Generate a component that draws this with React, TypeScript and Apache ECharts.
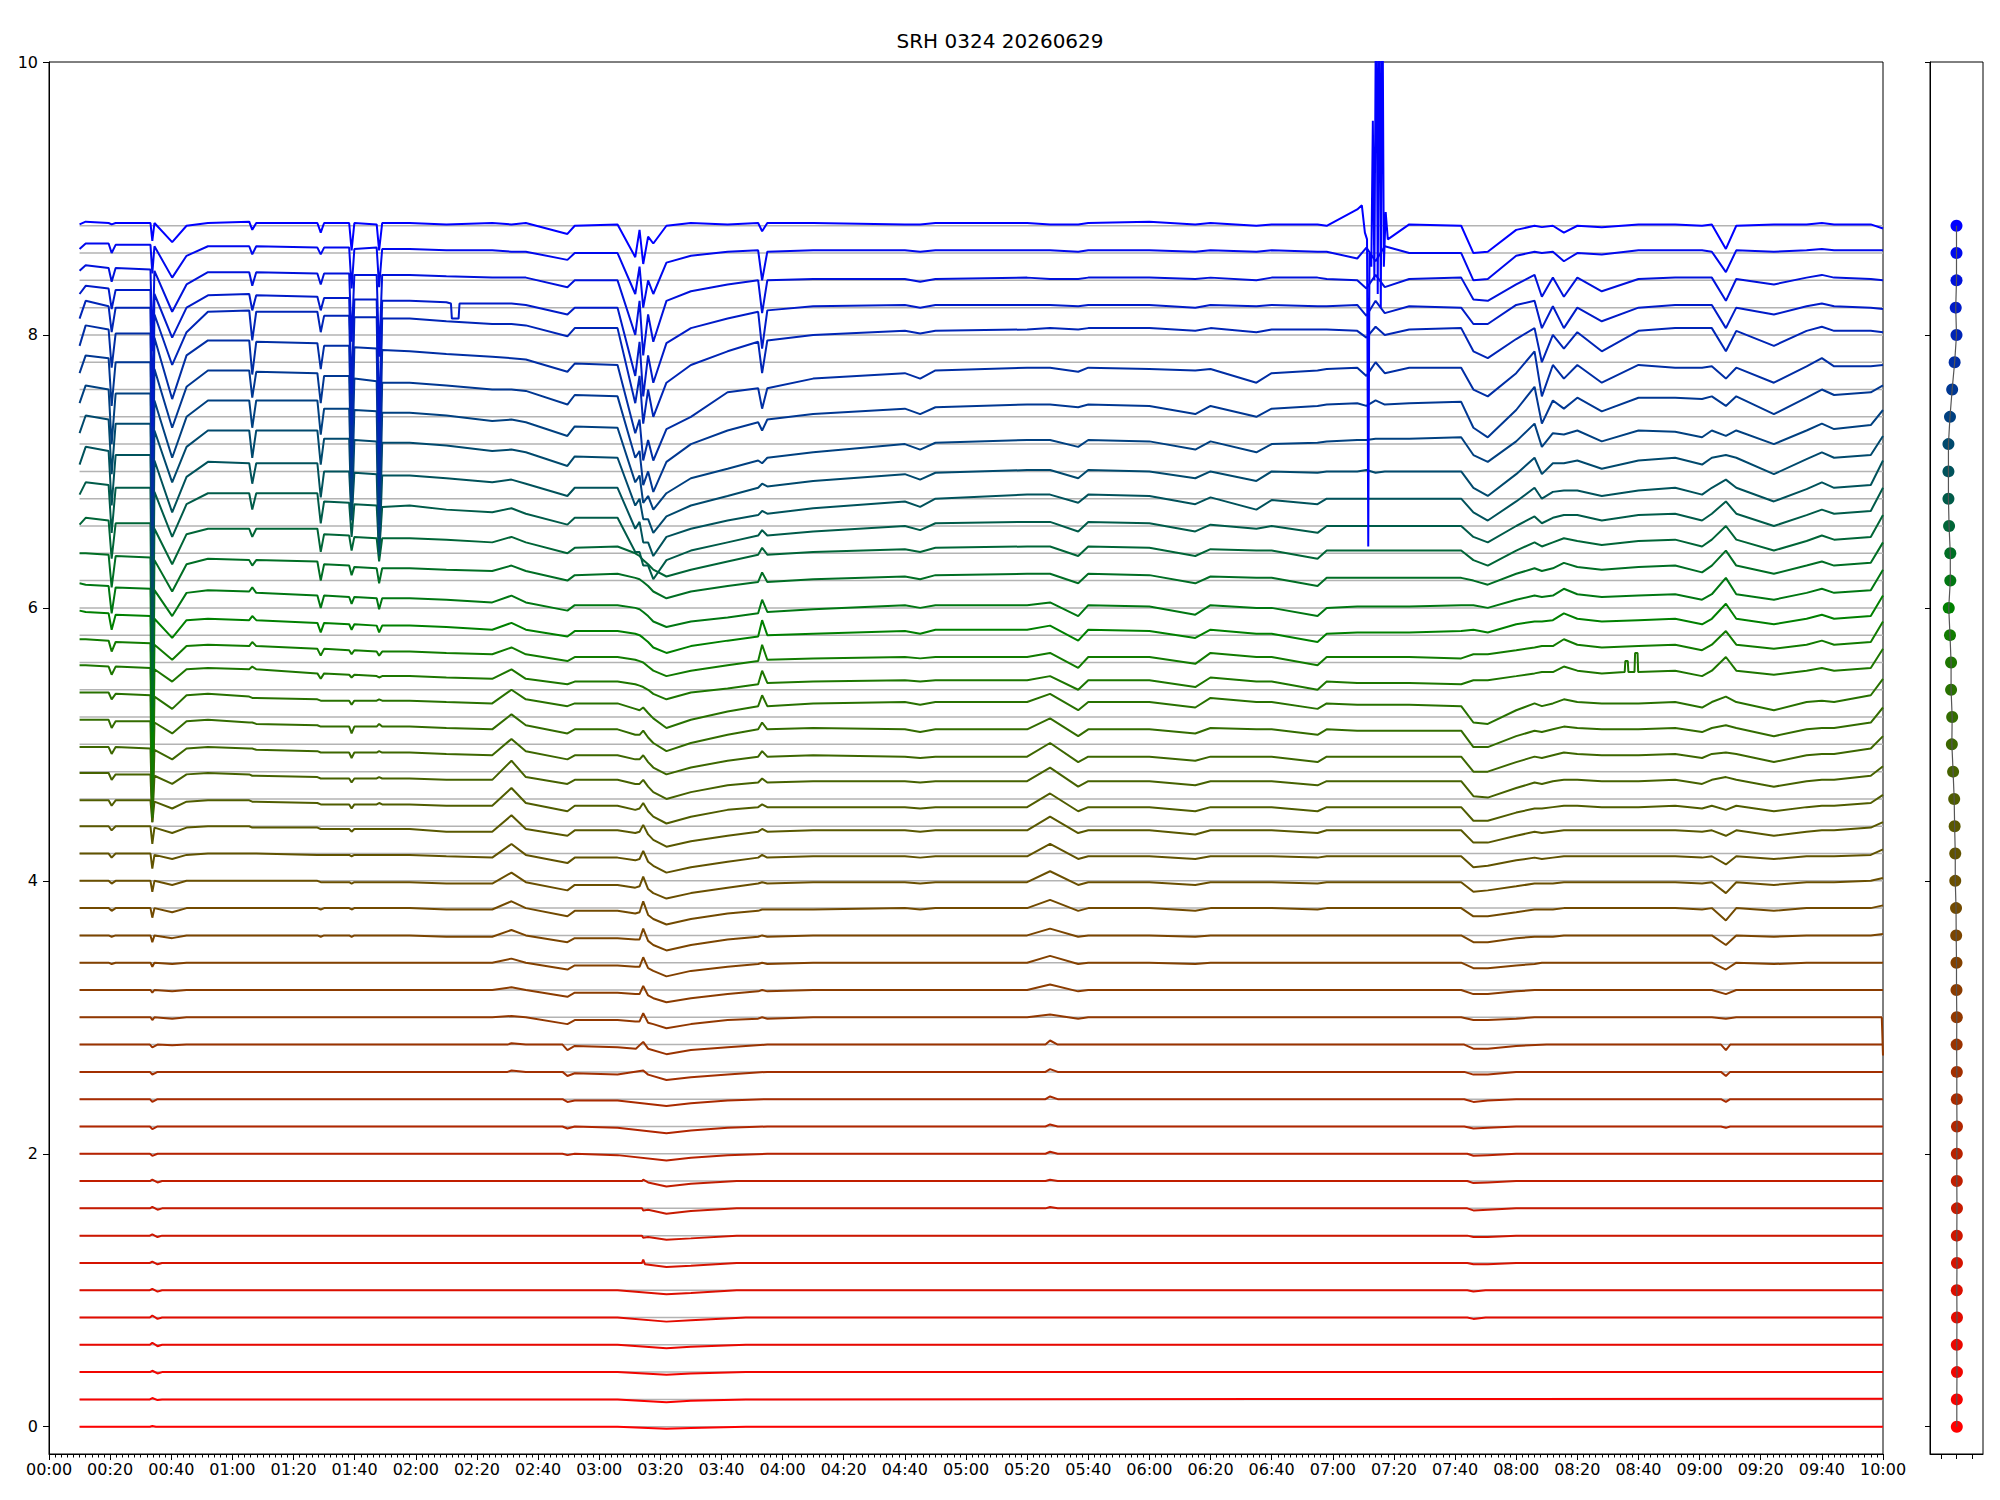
import React, { useEffect, useRef } from "react";
import * as echarts from "echarts";

const TITLE = "SRH 0324 20260629";
const X_MIN = 0;
const X_MAX = 600; // minutes from 00:00
const Y_MIN = -0.2;
const Y_MAX = 10;
const Y_TICKS = [0, 2, 4, 6, 8, 10];
const TRACE_STEP = 0.2;
const TRACE_COUNT = 45;
const BASELINE_START = 10;
const BASELINE_END = 600;

// shared time grid (minutes) for traces k = 15..44
const TIME_GRID = [10, 12, 19.5, 20.5, 21.8, 33.2, 33.8, 34.5, 40.3, 45, 52, 65.5, 66.5, 67.8, 87.8, 88.9, 90, 98.2, 99, 99.9, 107.2, 108, 109, 118, 130, 145, 151.3, 156, 169.6, 172, 186, 191.8, 193.2, 194.4, 196, 197.7, 202, 210, 222, 232, 233.3, 235, 250, 280, 285, 290, 320, 327.5, 336.7, 340, 360, 375, 380, 395, 400, 415, 418, 428, 431, 434, 437, 445, 462, 466, 470.7, 480, 486, 488.4, 492, 495.6, 500, 508, 520, 532, 540.8, 544, 548.6, 552, 564.3, 575, 580, 584, 596, 600];

// deviations from each trace's nominal level (hundredths), traces k = 15..44
const UPPER_TRACES: string[] = [
  /*15*/ "0 0 0 0 0 0 -2 0 -1 0 0 0 0 0 0 0 0 0 0 0 0 0 0 0 0 0 1 0 -5 -2 -2 -3 -3 3 -4 -5 -8 -5 -2 -1 0 -1 0 0 0 0 0 2 -1 0 0 0 0 0 0 0 0 0 0 0 0 0 0 -2 -2 -1 0 0 0 0 0 0 0 0 0 0 -1 0 0 0 0 0 0 -28",
  /*16*/ "0 0 0 0 0 0 -2 0 -1 0 0 0 0 0 0 0 0 0 0 0 0 0 0 0 0 0 2 0 -5 -2 -2 -3 -3 3 -4 -6 -9 -6 -3 -1 0 -1 0 0 0 0 0 4 -1 0 0 0 0 0 0 0 0 0 0 0 0 0 0 -3 -3 -1 0 0 0 0 0 0 0 0 0 0 -3 0 0 0 0 0 0 0",
  /*17*/ "0 0 0 -1 0 0 -3 0 -1 0 0 0 0 0 0 0 0 0 0 0 0 0 0 0 0 0 3 0 -5 -2 -2 -3 -3 4 -4 -6 -10 -6 -3 -1 0 -1 0 0 0 0 0 5 -1 0 0 -1 0 0 0 0 0 0 0 0 0 0 0 -4 -4 -2 -1 0 0 0 0 0 0 0 0 0 -5 0 -1 0 0 0 0 0",
  /*18*/ "0 0 0 -1 0 0 -5 0 -2 0 0 0 0 0 0 -1 0 0 -1 0 0 0 0 0 -1 -1 4 0 -5 -2 -2 -3 -3 5 -4 -7 -11 -7 -3 -1 0 -1 0 0 0 0 0 5 -1 0 0 -1 0 0 0 0 0 0 0 0 0 0 0 -5 -5 -2 -1 -1 -1 0 0 0 0 0 0 0 -7 0 -1 0 0 0 0 1",
  /*19*/ "0 0 0 -2 0 0 -7 0 -3 0 0 0 0 0 0 -1 0 0 -1 0 0 0 0 0 -1 -1 5 0 -6 -2 -2 -4 -3 5 -5 -8 -12 -8 -4 -2 -1 -1 -1 0 -1 0 0 6 -2 0 0 -2 0 0 0 -1 0 0 0 0 0 0 0 -6 -6 -3 -1 -1 -1 0 0 0 0 0 -1 0 -9 0 -2 0 0 0 0 2",
  /*20*/ "0 0 0 -2 0 0 -8 0 -3 0 0 0 0 0 0 -1 -1 -1 -2 -1 -1 -1 -1 -1 -2 -2 6 -1 -7 -3 -3 -5 -4 3 -6 -9 -13 -9 -5 -2 -1 -2 -1 -1 -2 -1 -1 7 -3 -1 -1 -3 -1 -1 -1 -2 -1 -1 -1 -1 -1 -1 -1 -8 -7 -4 -2 -2 -2 -1 -1 -1 -1 -1 -2 -1 -9 -1 -3 -1 -1 -1 0 2",
  /*21*/ "0 0 0 -3 0 0 -11 -1 -4 -1 0 0 0 0 -1 -1 -1 -1 -2 -1 -1 -1 -1 -1 -2 -3 7 -1 -7 -3 -3 -5 -4 2 -6 -9 -14 -10 -6 -3 -1 -3 -2 -2 -3 -2 -2 7 -4 -2 -2 -4 -2 -2 -2 -3 -2 -2 -2 -2 -2 -2 -2 -10 -9 -5 -3 -4 -3 -2 -2 -2 -2 -2 -3 -2 -8 -2 -4 -2 -2 -2 -1 3",
  /*22*/ "0 0 0 -3 0 0 -13 -1 -5 -1 0 0 -1 -1 -1 -2 -2 -2 -4 -2 -2 -2 -2 -2 -4 -4 8 -2 -7 -3 -3 -5 -4 1 -6 -10 -15 -11 -7 -4 -2 -4 -3 -3 -4 -3 -3 7 -5 -3 -3 -6 -3 -3 -3 -5 -3 -3 -3 -3 -3 -3 -3 -12 -12 -7 -4 -5 -4 -3 -3 -3 -3 -3 -4 -3 -7 -3 -7 -4 -3 -3 -1 3",
  /*23*/ "-1 -1 -1 -5 -1 -1 -17 -2 -7 -2 -1 -1 -2 -2 -3 -4 -4 -4 -7 -4 -4 -3 -4 -4 -5 -5 8 -3 -9 -5 -5 -8 -7 -3 -9 -13 -18 -13 -8 -6 -4 -6 -6 -6 -7 -6 -6 4 -9 -6 -6 -9 -6 -6 -6 -9 -6 -6 -6 -6 -6 -6 -6 -16 -16 -10 -7 -7 -6 -5 -5 -6 -6 -5 -7 -5 -8 -5 -9 -6 -5 -5 -3 3",
  /*24*/ "-1 -1 -1 -6 -2 -2 -37 -3 -9 -2 -1 -2 -3 -3 -4 -5 -5 -5 -8 -5 -5 -4 -5 -5 -6 -6 8 -4 -9 -6 -6 -9 -9 -6 -11 -15 -20 -15 -10 -8 -5 -8 -7 -7 -8 -7 -7 3 -11 -7 -7 -10 -7 -7 -7 -10 -7 -7 -7 -7 -7 -7 -7 -18 -19 -12 -8 -9 -7 -6 -6 -7 -7 -6 -9 -6 -4 -6 -11 -7 -6 -6 -3 4",
  /*25*/ "-2 -2 -2 -7 -2 -3 -53 -4 -11 -3 -2 -3 -3 -4 -5 -6 -6 -6 -10 -6 -6 -5 -6 -6 -7 -8 4 -5 -11 -8 -8 -11 -11 -8 -13 -17 -22 -17 -12 -9 -5 -9 -8 -9 -10 -9 -9 1 -13 -9 -9 -12 -9 -9 -9 -13 -9 -9 -9 -9 -9 -9 -9 -20 -20 -13 -9 -10 -8 -6 -7 -8 -8 -7 -10 -7 -6 -7 -13 -8 -7 -7 -3 6",
  /*26*/ "-2 -2 -2 -8 -3 -3 -73 -4 -12 -3 -2 -4 -4 -5 -6 -7 -7 -7 -12 -7 -7 -5 -7 -7 -8 -9 2 -6 -12 -9 -9 -13 -13 -10 -15 -19 -25 -19 -13 -9 -4 -9 -8 -9 -11 -9 -9 -1 -14 -9 -9 -12 -8 -9 -9 -13 -9 -10 -10 -10 -10 -10 -10 -22 -22 -14 -10 -11 -9 -7 -8 -9 -9 -8 -11 -8 -6 -8 -14 -9 -8 -8 -4 7",
  /*27*/ "-2 -2 -2 -7 -3 -4 -94 -5 -14 -4 -3 -5 -6 -6 -7 -8 -8 -8 -11 -8 -8 -7 -8 -8 -9 -10 0 -7 -12 -10 -10 -14 -15 -13 -17 -21 -28 -22 -16 -12 -4 -12 -10 -9 -11 -9 -9 -3 -15 -9 -9 -13 -6 -9 -9 -14 -10 -11 -11 -11 -11 -11 -12 -24 -25 -15 -10 -12 -10 -7 -9 -10 -10 -9 -13 -9 -5 -9 -15 -9 -8 -9 -4 8",
  /*28*/ "-2 -2 -3 -9 -3 -4 -99 -5 -14 -5 -4 -5 -3 -5 -8 -12 -8 -9 -11 -9 -10 -11 -10 -10 -11 -12 -5 -12 -16 -14 -14 -16 -17 -18 -20 -23 -27 -22 -19 -16 -6 -15 -14 -13 -14 -13 -13 -10 -20 -13 -13 -18 -11 -14 -14 -20 -14 -15 -15 -15 -15 -15 -16 -13 -13 -10 -8 -7 -7 -3 -6 -8 -7 -6 -10 -6 4 -6 -9 -6 -4 -6 -4 10",
  /*29*/ "-3 -3 -4 -12 -5 -6 -106 -7 -18 -8 -7 -8 -5 -8 -10 -15 -10 -11 -14 -11 -12 -15 -12 -12 -13 -14 -9 -14 -19 -16 -16 -18 -19 -20 -23 -26 -30 -26 -22 -19 -7 -18 -17 -16 -17 -16 -16 -13 -24 -16 -16 -21 -13 -16 -16 -22 -16 -16 -16 -16 -16 -16 -17 -14 -14 -11 -9 -8 -8 -3 -7 -9 -8 -7 -11 -7 3 -7 -10 -7 -4 -7 -5 10",
  /*30*/ "-2 -3 -4 -16 -5 -6 -106 -8 -22 -9 -8 -9 -6 -9 -11 -18 -11 -12 -16 -12 -13 -18 -13 -13 -14 -16 -11 -16 -21 -17 -17 -19 -20 -22 -25 -29 -33 -28 -24 -21 -9 -20 -19 -17 -19 -16 -16 -13 -24 -16 -17 -22 -16 -19 -19 -25 -19 -18 -18 -18 -18 -18 -17 -16 -18 -12 -10 -10 -9 -4 -8 -10 -9 -8 -12 -8 3 -8 -12 -8 -5 -8 -6 9",
  /*31*/ "-2 -3 -4 -24 -5 -6 -111 -7 -26 -9 -7 -8 -5 -9 -11 -20 -11 -12 -17 -12 -13 -21 -13 -13 -14 -16 -11 -16 -22 -18 -18 -20 -21 -23 -26 -30 -34 -30 -27 -24 -14 -23 -21 -18 -20 -18 -18 -16 -26 -18 -19 -25 -18 -20 -20 -26 -20 -19 -19 -19 -19 -19 -18 -18 -20 -14 -11 -12 -11 -6 -10 -12 -11 -10 -14 -10 2 -10 -14 -9 -6 -9 -7 8",
  /*32*/ "0 0 -1 -25 -2 -3 -113 -5 -28 -8 -4 -5 -9 -5 -6 -20 -8 -9 -16 -10 -11 -22 -11 -11 -12 -13 -9 -13 -20 -16 -15 -18 -19 -21 -24 -28 -33 -28 -24 -21 -14 -21 -19 -17 -19 -16 -15 -15 -22 -15 -16 -22 -17 -18 -18 -24 -18 -18 -18 -18 -18 -18 -18 -20 -23 -15 -11 -13 -11 -7 -10 -12 -10 -9 -14 -9 2 -9 -15 -9 -6 -9 -7 8",
  /*33*/ "1 6 4 -24 2 2 -113 -2 -28 -6 -2 -2 -8 -2 -2 -19 -6 -7 -18 -8 -9 -26 -9 -9 -10 -12 -8 -12 -20 -16 -15 -20 -22 -25 -28 -32 -37 -32 -26 -21 -16 -21 -19 -17 -19 -16 -15 -15 -22 -15 -16 -22 -17 -18 -18 -24 -18 -18 -18 -18 -18 -18 -18 -25 -29 -18 -12 -15 -12 -9 -11 -14 -11 -10 -15 -10 0 -10 -18 -11 -7 -10 -8 8",
  /*34*/ "3 12 10 -25 8 8 -112 5 -28 -4 4 4 -8 4 4 -18 -2 -3 -28 -4 -5 -40 -6 -5 -8 -10 -7 -11 -19 -14 -14 -39 -39 -49 -49 -59 -45 -38 -32 -27 -23 -27 -24 -20 -23 -18 -17 -17 -24 -17 -18 -24 -19 -22 -20 -25 -20 -20 -20 -20 -20 -20 -20 -28 -32 -20 -13 -18 -14 -12 -12 -16 -12 -11 -16 -11 -2 -11 -20 -12 -8 -11 -9 8",
  /*35*/ "5 18 15 -25 12 12 -108 8 -30 -4 7 6 -9 6 6 -19 0 0 -35 -1 -2 -62 -3 -3 -5 -8 -6 -9 -18 -12 -12 -42 -37 -52 -52 -62 -48 -42 -36 -32 -29 -31 -27 -22 -26 -20 -17 -17 -23 -17 -18 -24 -19 -28 -21 -24 -20 -20 -20 -20 -20 -20 -20 -30 -36 -22 -12 -20 -15 -14 -14 -18 -14 -12 -17 -12 -6 -12 -22 -13 -8 -12 -10 8",
  /*36*/ "8 21 18 -22 15 15 -105 10 -28 -2 10 10 -10 10 10 -15 4 4 -56 3 2 -78 1 1 -1 -5 -4 -6 -16 -9 -10 -45 -40 -55 -55 -65 -53 -45 -38 -32 -29 -31 -27 -22 -26 -21 -19 -19 -25 -19 -20 -25 -20 -27 -20 -21 -20 -20 -19 -21 -20 -20 -20 -32 -38 -22 -10 -22 -14 -14 -12 -18 -12 -10 -15 -10 -8 -10 -22 -11 -6 -10 -8 6",
  /*37*/ "10 23 20 -20 17 17 -102 12 -30 0 12 12 -8 12 12 -13 6 6 -62 5 4 -85 3 3 1 -3 -2 -4 -14 -7 -8 -48 -43 -63 -58 -68 -56 -45 -38 -32 -34 -30 -26 -20 -24 -19 -17 -17 -22 -17 -18 -24 -18 -26 -20 -19 -18 -17 -17 -16 -16 -16 -15 -28 -33 -18 -5 -22 -12 -13 -10 -18 -10 -11 -15 -10 -14 -10 -20 -10 -5 -9 -6 5",
  /*38*/ "12 25 23 -12 20 20 -100 15 -28 2 14 14 -6 13 12 -10 10 10 -65 8 6 -88 5 5 3 0 0 -1 -11 -4 -5 -50 -45 -70 -60 -75 -53 -40 -30 -24 -30 -22 -18 -14 -18 -13 -11 -11 -13 -11 -12 -18 -12 -20 -14 -12 -11 -10 -12 -8 -11 -10 -9 -28 -35 -15 2 -25 -8 -14 -6 -16 -6 -6 -7 -5 -12 -5 -18 -6 0 -4 -2 3",
  /*39*/ "12 27 24 -4 21 21 -98 18 -27 5 16 16 -9 15 14 -5 12 12 -70 11 10 -91 9 8 6 4 3 2 -7 -1 -2 -52 -42 -72 -57 -72 -49 -40 -22 -19 -34 -19 -12 -8 -12 -6 -4 -4 -7 -4 -5 -6 -5 -15 -8 -6 -5 -4 -10 0 -8 -4 -4 -20 -25 -8 8 -25 -2 -12 -2 -15 -2 -4 -4 -3 -12 -4 -15 -3 3 -3 -3 -2",
  /*40*/ "12 25 21 2 20 20 -90 15 -22 2 17 18 -4 17 17 2 14 14 -66 13 13 -87 12 12 10 8 8 7 -1 5 5 -50 -30 -65 -40 -60 -35 -22 -12 -5 -28 -4 0 3 1 3 4 5 4 5 5 3 5 2 4 4 4 3 -2 6 0 4 5 -12 -17 -3 5 -20 0 -10 2 -12 3 5 5 5 -12 3 -8 3 6 3 3 2",
  /*41*/ "10 16 14 -1 13 13 -87 10 -22 0 9 10 -2 9 8 -2 7 7 -63 6 6 -84 5 5 4 3 3 2 -5 0 0 -50 -25 -65 -35 -55 -26 -15 -8 -3 -30 -2 1 2 0 2 2 2 1 2 2 0 2 1 2 1 1 2 -6 5 -4 1 0 -12 -12 2 5 -15 1 -15 0 -10 0 2 2 2 -15 0 -5 1 3 1 0 -1",
  /*42*/ "7 11 9 -1 9 8 -52 7 -23 -3 6 6 -4 6 5 -3 5 5 -45 4 4 -56 4 4 3 2 2 2 -5 0 0 -40 -15 -55 -25 -45 -15 -8 -3 0 -24 0 1 1 -1 1 2 1 1 2 2 1 2 0 2 2 1 0 -6 4 -5 1 2 -14 -15 -3 4 -12 2 -12 2 -8 1 2 2 2 -15 1 -3 2 4 2 1 0",
  /*43*/ "3 7 7 0 6 6 -15 5 -18 -2 5 5 -1 5 4 -1 4 4 -26 3 4 -25 3 3 2 2 1 1 -5 0 0 -30 -10 -40 -20 -30 -7 -2 1 2 -20 1 2 2 1 2 2 2 1 2 2 1 2 1 2 1 1 -4 4 -6 5 0 0 -20 -19 -2 1 0 1 -6 0 -1 2 2 2 1 -14 2 1 2 3 2 2 2",
  /*44*/ "1 3 2 1 2 2 -11 2 -12 0 2 3 -3 2 2 -5 2 2 -18 2 1 -18 2 2 1 2 1 2 -6 0 1 -23 -3 -28 -8 -13 0 2 1 2 -4 2 2 1 1 2 2 1 1 2 3 1 2 0 1 1 0 12 2 2 3 1 0 -20 -19 -3 0 -1 0 -5 0 -1 1 1 0 1 -17 0 1 1 2 1 1 -2",
];

// sparse "minute:deviation(hundredths)" lists for traces k = 0..14
const LOWER_TRACES: string[] = [
  /*0*/ "10:0 33:0 33.8:0.5 35:0 186:0 202:-1.5 210:-1 228:0 600:0",
  /*1*/ "10:0 33:0 33.8:1 35.5:-0.5 37:0 186:0 202:-2 210:-1 228:0 600:0.5",
  /*2*/ "10:0 33:0 33.8:1 35.5:-1 37:0 186:0 202:-2 210:-1 228:0 600:0",
  /*3*/ "10:0 33:0 33.8:1.5 35.5:-1 37:0 186:0 202:-2.5 210:-1.5 228:0 600:0",
  /*4*/ "10:0 33:0 33.8:1.5 35.5:-1 37:0 186:0 202:-3 210:-2 228:0 464:0 466:-1 470:0 600:0",
  /*5*/ "10:0 33:0 33.8:1 35.5:-1 37:0 186:0 202:-3 210:-2 225:0 464:0 466:-1 470:0 600:0",
  /*6*/ "10:0 33:0 33.8:1 35.5:-1 37:0 186:0 194:0 194.4:2.5 195:-1 202:-3 210:-2 225:0 464:0 466:-1 470.7:-1 480:0 600:0",
  /*7*/ "10:0 33:0 33.8:1 35.5:-1 37:0 186:0 194:0 194.4:-1.5 196:-1 202:-3 210:-2 225:0 464:0 466:-1 470.7:-1 480:0 600:0",
  /*8*/ "10:0 33:0 33.8:1 35.5:-1 37:0 186:0 194:0 194.4:-1.5 196:-1 202:-4 210:-2 225:0 326:0 327.5:1 330:0 464:0 466:-1.5 470.7:-1 480:0 600:0",
  /*9*/ "10:0 33:0 33.8:1 35.5:-1 37:0 186:0 194:0 194.4:1 196:-1 202:-4 210:-2 225:0 326:0 327.5:1 330:0 464:0 466:-1.5 470.7:-1 480:0 600:0",
  /*10*/ "10:0 33:0 33.8:-1.5 35.5:0 168:0 169.6:-1 172:0 186:-1 202:-5 210:-3 222:-1 235:0 326:0 327.5:1.5 330:0 464:0 466:-1.5 470.7:-1 480:0 600:0",
  /*11*/ "10:0 33:0 33.8:-2 35.5:0 168:0 169.6:-1.5 172:0 186:-1 202:-5 210:-3 222:-1 235:0 326:0 327.5:1.5 330:0 463:0 466:-1.5 470.7:-1 480:0 547:0 548.6:-1 550:0 600:0",
  /*12*/ "10:0 33:0 33.8:-2 35.5:0 168:0 169.6:-2 172:-1 186:-1 202:-5 210:-3 222:-1 235:0 326:0 327.5:2 330:0 463:0 466:-2 470.7:-1 480:0 547:0 548.6:-2 550:0 600:0",
  /*13*/ "10:0 33:0 33.8:-2 35.5:0 150:0 151.3:1 156:0 168:0 169.6:-3 172:-1 186:-2 194.4:1 196:-2 202:-6 210:-4 222:-2 235:0 326:0 327.5:2 330:0 463:0 466:-2 470.7:-2 480:0 547:0 548.6:-3 550:0 600:0",
  /*14*/ "10:0 33:0 33.8:-2 35.5:0 40.3:-0.5 45:0 150:0 151.3:1 156:0 168:0 169.6:-4 172:-1 186:-2 192:-3 194.4:2 196:-3 202:-7 210:-4 222:-2 235:0 326:0 327.5:3 330:0 463:0 466:-3 470.7:-3 480:-1 490:0 547:0 548.6:-4 550:0 600:0",
];

// extra read points (minute, hundredths) for individual traces
const EXTRA_POINTS: Record<number, [number, number][]> = {
  15: [[599.6, 0]],
  28: [[515.5, -7], [515.7, 1], [516.5, 1], [516.7, -7], [518.7, -7], [518.9, 7], [519.7, 7], [519.9, -7]],
  41: [[131.5, 3], [131.8, -8], [134, -8], [134.3, 3]],
};

// burst on the top trace (absolute values)
const SPIKE_T = [429.5, 430.5, 431.2, 431.6, 432.0, 432.6, 433.1, 433.6, 434.2, 434.7, 435.2, 435.7, 436.2, 436.7, 437.3, 438];
const SPIKE_Y = [8.95, 8.75, 8.7, 6.45, 8.6, 8.5, 9.57, 8.4, 10.8, 8.3, 10.8, 8.2, 10.8, 8.5, 8.9, 8.7];

// side panel dot x positions (k = 0..44)
const DOT_X = [0.02, 0.02, 0.03, 0.02, 0.03, 0.02, 0.03, 0.02, 0.03, 0.02, 0.02, 0.03, 0.02, 0.02, 0.01, 0.02, 0.0, 0.0, -0.02, -0.03, -0.08, -0.08, -0.12, -0.15, -0.22, -0.3, -0.28, -0.35, -0.35, -0.42, -0.5, -0.4, -0.4, -0.48, -0.52, -0.52, -0.52, -0.42, -0.28, -0.12, 0, -0.05, 0, 0, 0];
const DOT_X_TICKS = [-1, 0, 1];

const FONT = "DejaVu Sans";

function traceColor(k: number): string {
  const pivot = 30;
  let r = 0, g = 0, b = 0;
  if (k <= pivot) {
    const t = k / pivot;
    r = 255 * Math.pow(1 - t, 0.8);
    g = 128 * Math.pow(t, 1.2);
  } else {
    const t = (k - pivot) / (TRACE_COUNT - 1 - pivot);
    g = 128 * (1 - t);
    b = 255 * t;
  }
  return `rgb(${Math.round(r)},${Math.round(g)},${Math.round(b)})`;
}

function traceData(k: number): [number, number][] {
  const base = k * TRACE_STEP;
  let pts: [number, number][];
  if (k >= 15) {
    const vals = UPPER_TRACES[k - 15].trim().split(/\s+/).map(Number);
    pts = TIME_GRID.map((t, i) => [t, vals[i] ?? 0] as [number, number]);
  } else {
    pts = LOWER_TRACES[k].trim().split(/\s+/).map((s) => {
      const [t, v] = s.split(":").map(Number);
      return [t, v] as [number, number];
    });
  }
  if (EXTRA_POINTS[k]) pts = pts.concat(EXTRA_POINTS[k]);
  let out: [number, number][] = pts.map(([t, v]) => [t, +(base + v / 100).toFixed(4)]);
  if (k === TRACE_COUNT - 1) {
    out = out.filter(([t]) => t < 429 || t > 438);
    SPIKE_T.forEach((t, i) => out.push([t, SPIKE_Y[i]]));
  }
  out.sort((a, b) => a[0] - b[0]);
  return out;
}

function fmtTime(v: number): string {
  const h = Math.floor(v / 60);
  const m = Math.round(v - h * 60);
  return `${String(h).padStart(2, "0")}:${String(m).padStart(2, "0")}`;
}

export default function App() {
  const ref = useRef<HTMLDivElement>(null);
  useEffect(() => {
    if (!ref.current) return;
    const chart = echarts.init(ref.current, null, { renderer: "svg" });
    const ks = Array.from({ length: TRACE_COUNT }, (_, k) => k);

    const baselineSeries = ks.map((k) => ({
      type: "line",
      xAxisIndex: 0,
      yAxisIndex: 0,
      data: [[BASELINE_START, +(k * TRACE_STEP).toFixed(2)], [BASELINE_END, +(k * TRACE_STEP).toFixed(2)]],
      symbol: "none",
      silent: true,
      z: 1,
      lineStyle: { color: "#b3b3b3", width: 1.5 },
    }));

    const traceSeries = ks.map((k) => ({
      type: "line",
      xAxisIndex: 0,
      yAxisIndex: 0,
      data: traceData(k),
      symbol: "none",
      silent: true,
      clip: true,
      z: 2,
      lineStyle: { color: traceColor(k), width: 2 },
    }));

    const dotSeries = {
      type: "scatter",
      xAxisIndex: 1,
      yAxisIndex: 1,
      symbolSize: 12,
      silent: true,
      z: 3,
      itemStyle: { opacity: 1 },
      data: ks.map((k) => ({ value: [DOT_X[k], +(k * TRACE_STEP).toFixed(2)], itemStyle: { color: traceColor(k), opacity: 1 } })),
    };
    const dotLine = {
      type: "line",
      xAxisIndex: 1,
      yAxisIndex: 1,
      symbol: "none",
      silent: true,
      z: 4,
      data: ks.map((k) => [DOT_X[k], +(k * TRACE_STEP).toFixed(2)]),
      lineStyle: { color: "#555555", width: 1.2 },
    };

    const axisLine = { show: true, onZero: false, lineStyle: { color: "#000", width: 1 } };

    chart.setOption({
      animation: false,
      backgroundColor: "#ffffff",
      title: {
        text: TITLE,
        left: "center",
        top: 26,
        textStyle: { fontFamily: FONT, fontSize: 20, fontWeight: "normal", color: "#000" },
      },
      grid: [
        { left: 49, top: 62, width: 1834, height: 1392, show: true, borderColor: "#000", borderWidth: 1, backgroundColor: "transparent", containLabel: false, outerBoundsMode: "none" },
        { left: 1930, top: 62, width: 53, height: 1392, show: true, borderColor: "#000", borderWidth: 1, backgroundColor: "transparent", containLabel: false, outerBoundsMode: "none" },
      ],
      xAxis: [
        {
          gridIndex: 0,
          type: "value",
          min: X_MIN,
          max: X_MAX,
          interval: 20,
          axisLine,
          axisTick: { show: true, length: 6, lineStyle: { color: "#000", width: 1 } },
          minorTick: { show: true, splitNumber: 10, length: 3.5, lineStyle: { color: "#000", width: 1 } },
          axisLabel: { show: true, formatter: fmtTime, fontFamily: FONT, fontSize: 16, color: "#000", margin: 7, showMinLabel: true, showMaxLabel: true },
          splitLine: { show: false },
          minorSplitLine: { show: false },
        },
        {
          gridIndex: 1,
          type: "value",
          min: -1.71,
          max: 1.71,
          axisLine,
          axisTick: { show: true, length: 5, customValues: DOT_X_TICKS, lineStyle: { color: "#000", width: 1 } },
          axisLabel: { show: false },
          splitLine: { show: false },
        },
      ],
      yAxis: [
        {
          gridIndex: 0,
          type: "value",
          min: Y_MIN,
          max: Y_MAX,
          axisLine,
          axisTick: { show: true, length: 6, customValues: Y_TICKS, lineStyle: { color: "#000", width: 1 } },
          axisLabel: { show: true, customValues: Y_TICKS, fontFamily: FONT, fontSize: 16, color: "#000", margin: 11 },
          splitLine: { show: false },
        },
        {
          gridIndex: 1,
          type: "value",
          min: Y_MIN,
          max: Y_MAX,
          axisLine,
          axisTick: { show: true, length: 5, customValues: Y_TICKS, lineStyle: { color: "#000", width: 1 } },
          axisLabel: { show: false },
          splitLine: { show: false },
        },
      ],
      series: [...baselineSeries, ...traceSeries, dotSeries, dotLine],
    });
    return () => chart.dispose();
  }, []);

  return (
    <div
      ref={ref}
      style={{ position: "absolute", left: 0, top: 0, width: 2000, height: 1500, background: "#fff" }}
    />
  );
}
